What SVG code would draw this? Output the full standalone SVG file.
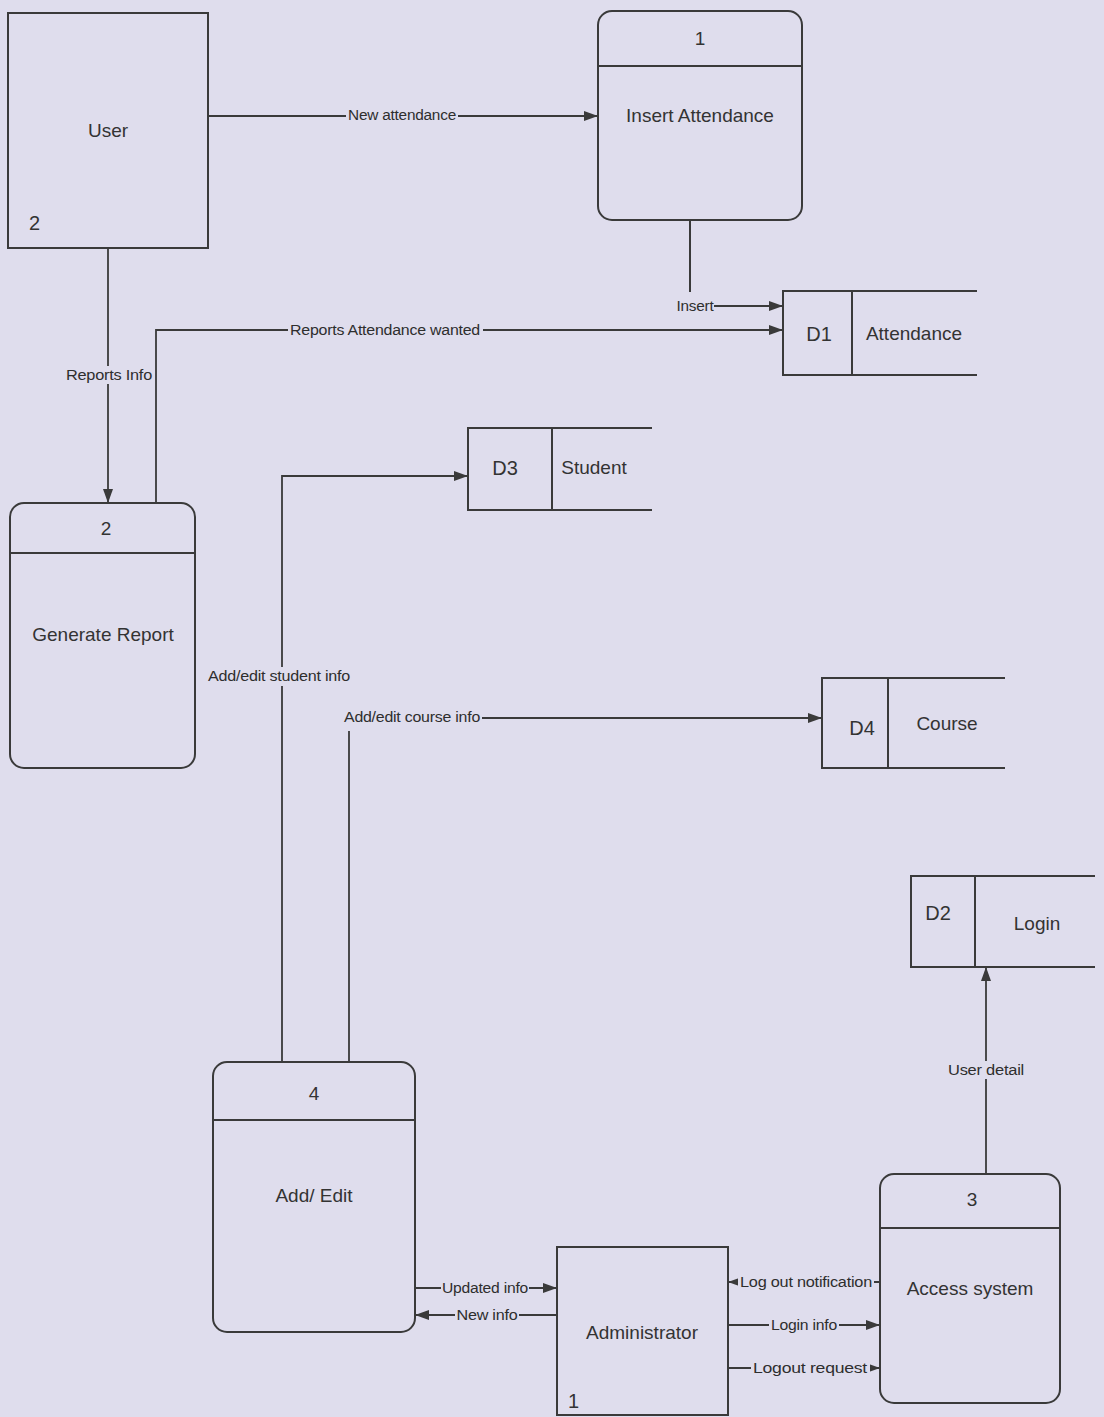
<svg xmlns="http://www.w3.org/2000/svg" width="1104" height="1417" viewBox="0 0 1104 1417">
<defs>
<marker id="arr" viewBox="0 0 14 10" refX="14" refY="5" markerWidth="14" markerHeight="10" markerUnits="userSpaceOnUse" orient="auto">
<path d="M0,0 L14,5 L0,10 z" fill="#3a3a3a"/>
</marker>
<style>
.bg{fill:#dfdded}
.box{fill:none;stroke:#3a3a3a;stroke-width:2}
.ln{fill:none;stroke:#3a3a3a;stroke-width:2}
.fl{fill:none;stroke:#3a3a3a;stroke-width:1.8;marker-end:url(#arr)}
.t{font-family:"Liberation Sans",Arial,sans-serif;font-size:19px;fill:#333;text-anchor:middle}
.n{font-family:"Liberation Sans",Arial,sans-serif;font-size:20px;fill:#333}
.lb{font-family:"Liberation Sans",Arial,sans-serif;font-size:14px;fill:#2e2e2e;text-anchor:middle;letter-spacing:-0.2px}
.lbg{fill:#dfdded}
</style>
</defs>
<rect class="bg" x="0" y="0" width="1104" height="1417"/>

<g id="connectors">
<path class="fl" d="M208,116 H598"/>
<rect class="lbg" x="346" y="107" width="112" height="17"/>
<text class="lb" x="402" y="120" textLength="108" lengthAdjust="spacingAndGlyphs">New attendance</text>

<path class="ln" d="M690,220 V292"/>
<path class="fl" d="M714,306 H783"/>
<text class="lb" x="695" y="311" textLength="37" lengthAdjust="spacingAndGlyphs">Insert</text>

<path class="fl" d="M156,503 V330 H783"/>
<rect class="lbg" x="288" y="322" width="195" height="17"/>
<text class="lb" x="385" y="335" textLength="190" lengthAdjust="spacingAndGlyphs">Reports Attendance wanted</text>

<path class="fl" d="M108,248 V503"/>
<rect class="lbg" x="64" y="366" width="90" height="18"/>
<text class="lb" x="109" y="380" textLength="86" lengthAdjust="spacingAndGlyphs">Reports Info</text>

<path class="fl" d="M282,1063 V476 H468"/>
<rect class="lbg" x="206" y="667" width="146" height="19"/>
<text class="lb" x="279" y="681" textLength="142" lengthAdjust="spacingAndGlyphs">Add/edit student info</text>

<path class="fl" d="M349,1063 V718 H822"/>
<rect class="lbg" x="342" y="709" width="140" height="22"/>
<text class="lb" x="412" y="722" textLength="136" lengthAdjust="spacingAndGlyphs">Add/edit course info</text>

<path class="fl" d="M986,1175 V967"/>
<rect class="lbg" x="946" y="1061" width="80" height="18"/>
<text class="lb" x="986" y="1075" textLength="76" lengthAdjust="spacingAndGlyphs">User detail</text>

<path class="fl" d="M415,1288 H557"/>
<rect class="lbg" x="441" y="1280" width="88" height="17"/>
<text class="lb" x="485" y="1293" textLength="86" lengthAdjust="spacingAndGlyphs">Updated info</text>

<path class="fl" d="M557,1315 H415"/>
<rect class="lbg" x="455" y="1307" width="64" height="17"/>
<text class="lb" x="487" y="1320" textLength="61" lengthAdjust="spacingAndGlyphs">New info</text>

<path class="fl" d="M880,1282 H728"/>
<rect class="lbg" x="738" y="1274" width="136" height="17"/>
<text class="lb" x="806" y="1287" textLength="132" lengthAdjust="spacingAndGlyphs">Log out notification</text>

<path class="fl" d="M728,1325 H880"/>
<rect class="lbg" x="769" y="1317" width="70" height="17"/>
<text class="lb" x="804" y="1330" textLength="66" lengthAdjust="spacingAndGlyphs">Login info</text>

<path class="fl" d="M728,1368 H880"/>
<rect class="lbg" x="751" y="1360" width="119" height="17"/>
<text class="lb" x="810" y="1373" textLength="114" lengthAdjust="spacingAndGlyphs">Logout request</text>
</g>

<g id="user">
<rect class="box" x="8" y="13" width="200" height="235"/>
<text class="t" x="108" y="137">User</text>
<text class="n" x="29" y="230">2</text>
</g>

<g id="insert-attendance">
<rect class="box" x="598" y="11" width="204" height="209" rx="14"/>
<line class="ln" x1="598" y1="66" x2="802" y2="66"/>
<text class="t" x="700" y="45">1</text>
<text class="t" x="700" y="122">Insert Attendance</text>
</g>

<g id="d1-attendance">
<path class="box" d="M977,291 H783 V375 H977 M852,291 V375"/>
<text class="t" x="819" y="341" style="font-size:20px">D1</text>
<text class="t" x="914" y="340">Attendance</text>
</g>

<g id="generate-report">
<rect class="box" x="10" y="503" width="185" height="265" rx="14"/>
<line class="ln" x1="10" y1="553" x2="195" y2="553"/>
<text class="t" x="106" y="535">2</text>
<text class="t" x="103" y="641">Generate Report</text>
</g>

<g id="d3-student">
<path class="box" d="M652,428 H468 V510 H652 M552,428 V510"/>
<text class="t" x="505" y="475" style="font-size:20px">D3</text>
<text class="t" x="594" y="474">Student</text>
</g>

<g id="d4-course">
<path class="box" d="M1005,678 H822 V768 H1005 M888,678 V768"/>
<text class="t" x="862" y="735" style="font-size:20px">D4</text>
<text class="t" x="947" y="730">Course</text>
</g>

<g id="d2-login">
<path class="box" d="M1095,876 H911 V967 H1095 M975,876 V967"/>
<text class="t" x="938" y="920" style="font-size:20px">D2</text>
<text class="t" x="1037" y="930">Login</text>
</g>

<g id="add-edit">
<rect class="box" x="213" y="1062" width="202" height="270" rx="14"/>
<line class="ln" x1="213" y1="1120" x2="415" y2="1120"/>
<text class="t" x="314" y="1100">4</text>
<text class="t" x="314" y="1202">Add/ Edit</text>
</g>

<g id="access-system">
<rect class="box" x="880" y="1174" width="180" height="229" rx="14"/>
<line class="ln" x1="880" y1="1228" x2="1060" y2="1228"/>
<text class="t" x="972" y="1206">3</text>
<text class="t" x="970" y="1295">Access system</text>
</g>

<g id="administrator">
<rect class="box" x="557" y="1247" width="171" height="168"/>
<text class="t" x="642" y="1339">Administrator</text>
<text class="n" x="568" y="1408">1</text>
</g>
</svg>
